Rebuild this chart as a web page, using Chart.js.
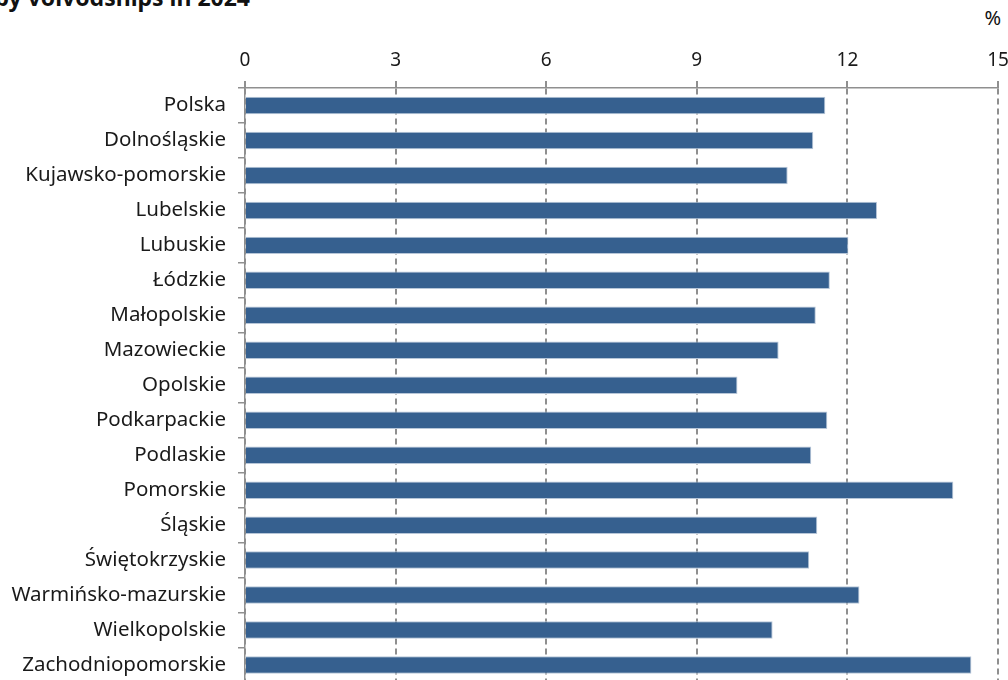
<!DOCTYPE html>
<html>
<head>
<meta charset="utf-8">
<script src="https://cdn.jsdelivr.net/npm/chart.js@4"></script>
<style>
  html, body { margin: 0; padding: 0; background: #fff; overflow: hidden; }
  #title {
    position: absolute; right: 758px; top: -15px;
    font: bold 23px "Noto Sans", sans-serif; line-height: 24px;
    white-space: nowrap; color: #111;
  }
  #unit {
    position: absolute; right: 7px; top: 4px;
    font: 20px "Noto Sans", sans-serif; color: #111;
  }
  #wrap { position: absolute; left: 0; top: 0; width: 1008px; height: 692px; }
</style>
</head>
<body>
<div id="title">by voivodships in 2024</div>
<div id="unit">%</div>
<div id="wrap"><canvas id="chart"></canvas></div>
<script>
const regions = [
  'Polska', 'Dolnośląskie', 'Kujawsko-pomorskie', 'Lubelskie', 'Lubuskie',
  'Łódzkie', 'Małopolskie', 'Mazowieckie', 'Opolskie', 'Podkarpackie',
  'Podlaskie', 'Pomorskie', 'Śląskie', 'Świętokrzyskie',
  'Warmińsko-mazurskie', 'Wielkopolskie', 'Zachodniopomorskie'
];
const values = [
  11.56, 11.32, 10.81, 12.59, 12.02,
  11.65, 11.37, 10.63, 9.81, 11.60,
  11.28, 14.11, 11.40, 11.24,
  12.24, 10.51, 14.47
];
const xTicks = [0, 3, 6, 9, 12, 15];

const gray = '#8f8f8f';
const labelFont = { family: '"Noto Sans", sans-serif', size: 20.5 };
const tickFont = { family: '"Noto Sans", sans-serif', size: 19 };

new Chart(document.getElementById('chart'), {
  type: 'bar',
  data: {
    labels: regions,
    datasets: [{
      data: values,
      backgroundColor: '#36608f',
      borderColor: '#b7c6d8',
      borderWidth: 1,
      categoryPercentage: 1,
      barPercentage: 0.5,
    }],
  },
  options: {
    indexAxis: 'y',
    responsive: true,
    maintainAspectRatio: false,
    animation: false,
    layout: { padding: { left: 0, right: 10, top: 0, bottom: 9.5 } },
    plugins: {
      legend: { display: false },
      tooltip: { enabled: false },
    },
    scales: {
      x: {
        position: 'top',
        min: 0,
        max: 15,
        afterBuildTicks: (scale) => {
          scale.ticks = xTicks.map(v => ({ value: v }));
        },
        afterFit: (scale) => {
          scale.height = 88;
          scale.paddingLeft = 0;
          scale.paddingRight = 0;
        },
        ticks: { color: '#1a1a1a', font: tickFont, padding: 9 },
        grid: {
          color: gray,
          lineWidth: 2,
          drawTicks: true,
          tickLength: 7,
          tickBorderDash: [],
          tickColor: gray,
        },
        border: { display: true, color: gray, width: 1.5, dash: [6, 4] },
      },
      y: {
        afterFit: (scale) => {
          scale.width = 245;
          scale.paddingTop = 0;
          scale.paddingBottom = 0;
        },
        ticks: { color: '#1a1a1a', font: labelFont, padding: 12 },
        grid: {
          drawOnChartArea: false,
          drawTicks: true,
          tickLength: 7,
          color: gray,
          lineWidth: 1.5,
        },
        border: { display: true, color: gray, width: 1.5 },
      },
    },
  },
});
</script>
</body>
</html>
